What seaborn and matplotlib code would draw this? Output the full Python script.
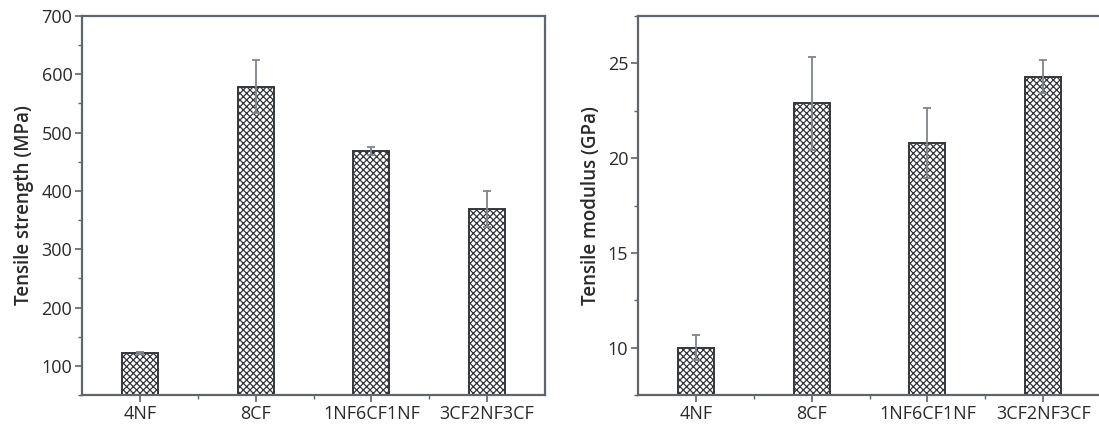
import matplotlib
matplotlib.use("Agg")
import matplotlib.pyplot as plt
import seaborn as sns
import pandas as pd
from matplotlib.ticker import MultipleLocator

categories = ["4NF", "8CF", "1NF6CF1NF", "3CF2NF3CF"]
strength = [122, 579, 469, 369]
strength_err = [2, 46, 7, 31]
modulus = [10.0, 22.9, 20.8, 24.3]
modulus_err = [0.65, 2.45, 1.85, 0.88]

sns.set_theme(style="white")
plt.rcParams['font.family'] = ['Open Sans', 'DejaVu Sans']
plt.rcParams['hatch.color'] = '#62676e'
plt.rcParams['hatch.linewidth'] = 0.9

fig = plt.figure(figsize=(10.99, 4.28), dpi=100)
ax1 = fig.add_axes([82/1099, 1-395/428, (545-82)/1099, (395-16)/428])
ax2 = fig.add_axes([638/1099, 1-395/428, (1101-638)/1099, (395-16)/428])

spine_col = '#5f656c'
text_col = '#2a2a2a'

def draw(ax, vals, errs, ylabel, ylim, major, minor):
    df = pd.DataFrame({"cat": categories, "val": vals})
    sns.barplot(data=df, x="cat", y="val", ax=ax, color="white", width=0.31,
                edgecolor='#33363a', linewidth=1.4, errorbar=None, saturation=1)
    for p in ax.patches:
        p.set_hatch('xxxxx')
        p.set_facecolor('white')
    ax.errorbar(range(len(categories)), vals, yerr=errs, fmt='none',
                ecolor='#7d858c', elinewidth=1.3, capsize=3, capthick=1.3, zorder=5)
    ax.set_xlim(-0.5, 3.5)
    ax.set_ylim(*ylim)
    ax.yaxis.set_major_locator(MultipleLocator(major))
    ax.yaxis.set_minor_locator(MultipleLocator(minor))
    ax.set_xticks([0.5, 1.5, 2.5], minor=True)
    ax.set_xlabel("")
    ax.set_ylabel(ylabel, fontsize=13.5, fontweight='semibold', color=text_col, labelpad=5)
    for s in ax.spines.values():
        s.set_color(spine_col)
        s.set_linewidth(1.6)
    ax.tick_params(axis='both', which='major', direction='out', length=5, width=1.2,
                   color=spine_col, labelsize=13, labelcolor=text_col, pad=2,
                   left=True, bottom=True)
    ax.tick_params(axis='both', which='minor', direction='out', length=3, width=1.0,
                   color=spine_col, left=True, bottom=True)
    ax.grid(False)

draw(ax1, strength, strength_err, "Tensile strength (MPa)", (50, 700), 100, 50)
draw(ax2, modulus, modulus_err, "Tensile modulus (GPa)", (7.5, 27.5), 5, 2.5)

fig.savefig("out.png", dpi=100)
